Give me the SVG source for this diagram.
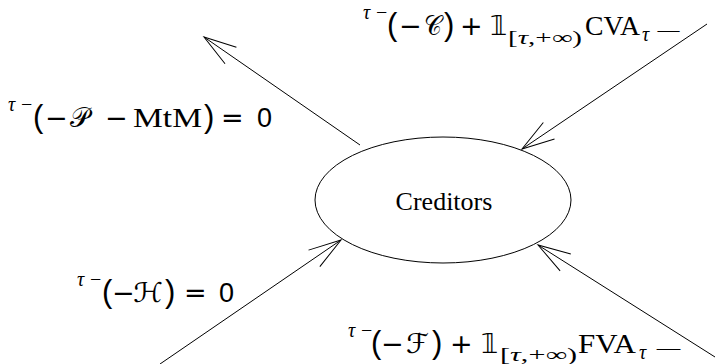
<svg xmlns="http://www.w3.org/2000/svg" width="715" height="364" viewBox="0 0 715 364">
<defs>
<marker id="ah" markerUnits="userSpaceOnUse" markerWidth="40" markerHeight="24" refX="0" refY="0" viewBox="-36 -12 40 24" orient="auto" overflow="visible">
<path d="M-32.5,-10 L0,0 L-32.5,10" fill="none" stroke="#000" stroke-width="1"/>
</marker>
</defs>
<style>
text{fill:#000}
.rm{font-family:"Liberation Serif","DejaVu Serif",serif;font-size:28px}
.scr{font-family:"DejaVu Serif","DejaVu Sans",serif;font-size:27px}
.sup{font-family:"Liberation Serif","DejaVu Serif",serif;font-style:italic;font-size:20px}
.supm{font-family:"Liberation Serif","DejaVu Serif",serif;font-size:20px}
.par{font-family:"Liberation Sans","DejaVu Sans",sans-serif;font-size:31px}
.op{font-family:"DejaVu Sans","Liberation Sans",sans-serif;font-size:27px}
.num{font-family:"Liberation Sans","DejaVu Sans",sans-serif;font-size:27px}
.sub{font-family:"Liberation Serif","DejaVu Serif",serif;font-size:19px}
.lbl{font-family:"Liberation Serif","DejaVu Serif",serif;font-size:26px}
.edge{stroke:#000;stroke-width:1;fill:none;marker-end:url(#ah)}
</style>
<rect width="715" height="364" fill="#fff"/>
<g id="node-creditors">
<ellipse cx="443" cy="200" rx="128" ry="63" fill="none" stroke="#000" stroke-width="1"/>
<text class="lbl" x="444" y="210" text-anchor="middle">Creditors</text>
</g>
<g id="connectors">
<line class="edge" x1="360" y1="145" x2="204" y2="37"/>
<line class="edge" x1="707" y1="24" x2="522" y2="149"/>
<line class="edge" x1="160" y1="364" x2="341" y2="240"/>
<line class="edge" x1="715" y1="357" x2="538" y2="245"/>
</g>
<g id="label-P">
<text class="sup" x="8" y="111">τ</text>
<text class="supm" x="21" y="111">−</text>
<text class="par" x="33" y="127">(</text>
<text class="op" x="45" y="127">−</text>
<text class="scr" x="70" y="127" textLength="19" lengthAdjust="spacingAndGlyphs">𝒫</text>
<text class="op" x="105" y="127">−</text>
<text class="rm" x="133" y="127" font-size="29" textLength="69" lengthAdjust="spacingAndGlyphs">MtM</text>
<text class="par" x="204" y="127">)</text>
<text class="op" x="221" y="127">=</text>
<text class="num" x="257" y="127">0</text>
</g>
<g id="label-H">
<text class="sup" x="77" y="286">τ</text>
<text class="supm" x="90" y="286">−</text>
<text class="par" x="102" y="302">(</text>
<text class="op" x="112" y="302">−</text>
<text class="scr" x="133" y="302" textLength="30" lengthAdjust="spacingAndGlyphs">ℋ</text>
<text class="par" x="165" y="302">)</text>
<text class="op" x="184" y="302">=</text>
<text class="num" x="219" y="302">0</text>
</g>
<g id="label-C">
<text class="sup" x="363" y="19">τ</text>
<text class="supm" x="376" y="19">−</text>
<text class="par" x="387" y="35">(</text>
<text class="op" x="399" y="35">−</text>
<text class="scr" x="424" y="35" textLength="18" lengthAdjust="spacingAndGlyphs">𝒞</text>
<text class="par" x="444" y="35">)</text>
<text class="op" x="460" y="35">+</text>
<text class="num" x="490" y="35">𝟙</text>
<text class="sub" x="508" y="44" textLength="74" lengthAdjust="spacingAndGlyphs">[<tspan font-style="italic">τ</tspan>,+∞)</text>
<text class="rm" x="585" y="35" textLength="55" lengthAdjust="spacingAndGlyphs">CVA</text>
<text class="sup" x="642" y="41">τ</text>
<text class="sub" x="655" y="38" textLength="27" lengthAdjust="spacingAndGlyphs">−</text>
</g>
<g id="label-F">
<text class="sup" x="348" y="337">τ</text>
<text class="supm" x="361" y="337">−</text>
<text class="par" x="371" y="353">(</text>
<text class="op" x="381" y="353">−</text>
<text class="scr" x="406" y="353" textLength="23" lengthAdjust="spacingAndGlyphs">ℱ</text>
<text class="par" x="432" y="353">)</text>
<text class="op" x="450" y="353">+</text>
<text class="num" x="481" y="353">𝟙</text>
<text class="sub" x="500" y="361" textLength="77" lengthAdjust="spacingAndGlyphs">[<tspan font-style="italic">τ</tspan>,+∞)</text>
<text class="rm" x="578" y="353" textLength="58" lengthAdjust="spacingAndGlyphs">FVA</text>
<text class="sup" x="639" y="359">τ</text>
<text class="sub" x="654" y="356" textLength="29" lengthAdjust="spacingAndGlyphs">−</text>
</g>
</svg>
